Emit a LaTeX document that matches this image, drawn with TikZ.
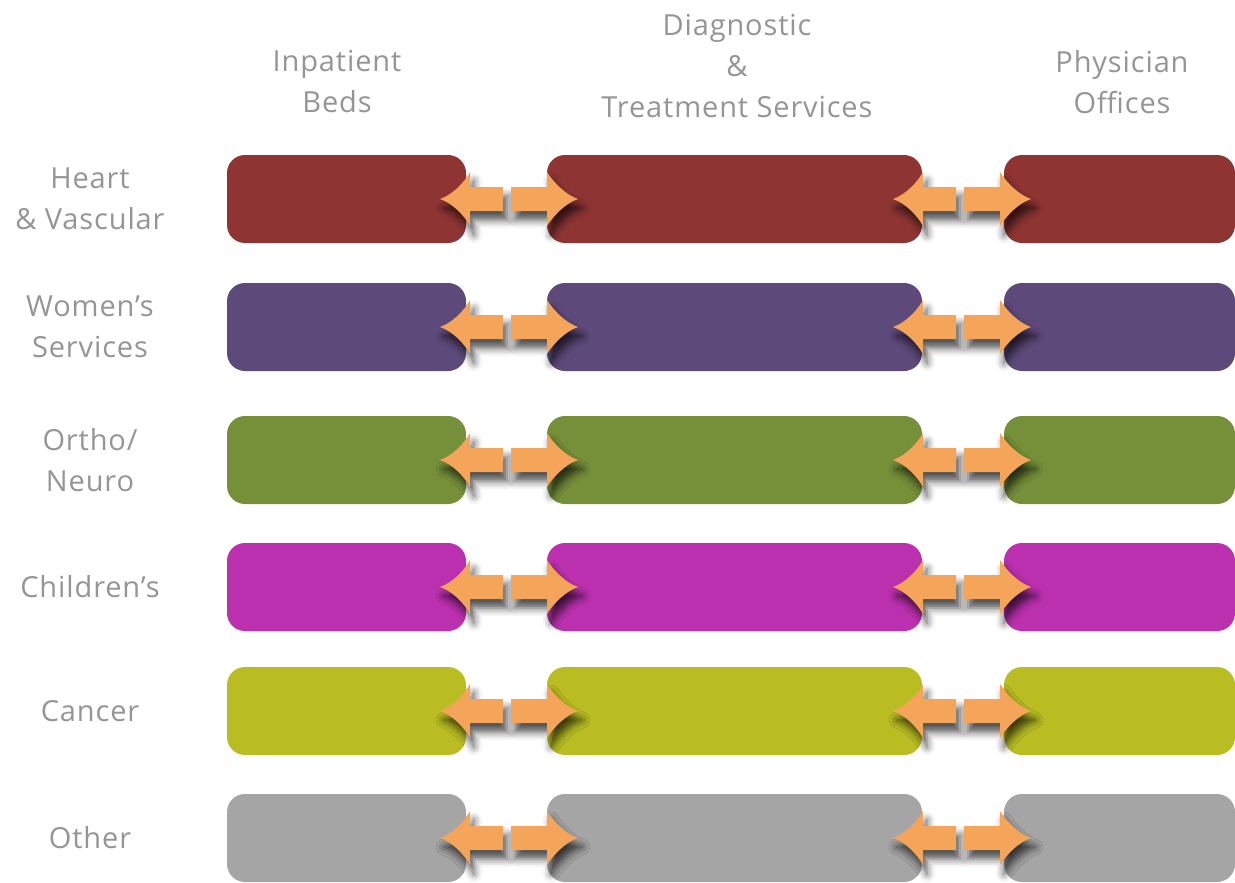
\documentclass[tikz,border=0pt]{standalone}
\usepackage{fontspec}
\setmainfont[LetterSpace=3]{Open Sans}
\usetikzlibrary{shadows.blur}
\definecolor{cHeart}{HTML}{8E3534}
\definecolor{cWomen}{HTML}{5E4A7A}
\definecolor{cOrtho}{HTML}{76903A}
\definecolor{cChild}{HTML}{BB30AE}
\definecolor{cCancer}{HTML}{B9BD22}
\definecolor{cOther}{HTML}{A5A5A5}
\definecolor{cArrow}{HTML}{F5A55A}
\definecolor{cText}{HTML}{959595}
\newcommand\arrpair[2]{%
  \begin{scope}[shift={(#1,#2)}]
    \fill[arrowstyle] (0,0) .. controls (12,-4) and (24,-16) .. (30,-27) -- (30,-12) -- (63,-12) -- (63,12) -- (30,12) -- (30,27) .. controls (24,16) and (12,4) .. (0,0) -- cycle;
    \fill[arrowstyle] (138,0) .. controls (126,-4) and (114,-16) .. (107,-27) -- (107,-12) -- (71,-12) -- (71,12) -- (107,12) -- (107,27) .. controls (114,16) and (126,4) .. (138,0) -- cycle;
  \end{scope}}
\begin{document}
\begin{tikzpicture}[x=1pt,y=-1pt,
  bar/.style={fill=#1, rounded corners=18pt, inner sep=0pt, minimum height=88pt},
  colA/.style={minimum width=239pt},
  colB/.style={minimum width=375pt},
  colC/.style={minimum width=231pt},
  lab/.style={text=cText, font=\fontsize{29}{41}\selectfont, align=center, inner sep=0pt},
  arrowstyle/.style={fill=cArrow, blur shadow={shadow xshift=4pt, shadow yshift=-9pt, shadow blur radius=8pt, shadow opacity=70}}]
\useasboundingbox (0,0) rectangle (1235,883);
% headers
\node[lab] (hA) at (337,82) {Inpatient\\Beds};
\node[lab] (hB) at (737,66) {Diagnostic\\\&\\Treatment Services};
\node[lab] (hC) at (1122,82) {Physician\\Offices};
% rows
\foreach \name/\col/\top/\txt [count=\i] in {heart/cHeart/155/{Heart\\\& Vascular},
    women/cWomen/283/{Women’s\\Services},
    ortho/cOrtho/416/{Ortho/\\Neuro},
    child/cChild/543/{Children’s},
    cancer/cCancer/667/{Cancer},
    other/cOther/794/{Other}}{
  \pgfmathsetmacro\cy{\top+44}
  \node[bar=\col, colA] (\name A) at (346.5,\cy) {};
  \node[bar=\col, colB] (\name B) at (734.5,\cy) {};
  \node[bar=\col, colC] (\name C) at (1119.5,\cy) {};
  \node[lab] (\name L) at (90,\cy) {\txt};
  \arrpair{440}{\cy}
  \arrpair{893}{\cy}
}
\end{tikzpicture}
\end{document}
